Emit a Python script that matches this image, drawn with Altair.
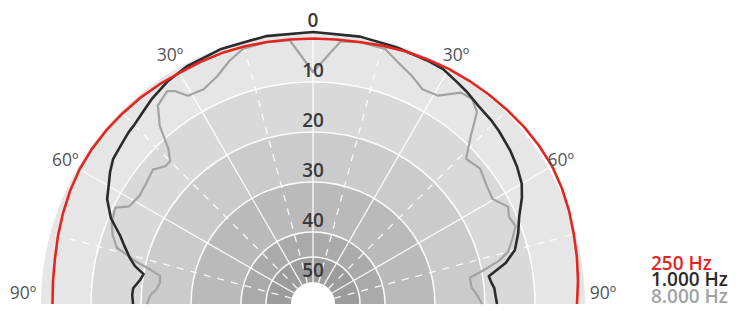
import altair as alt
import pandas as pd

# ---------------- data ----------------
series_names = ["250 Hz", "1.000 Hz", "8.000 Hz"]

red_angles = [-90, -85, -80, -75, -70, -65, -60, -55, -50, -45, -40, -35, -30, -25, -20, -15, -10, -5,
              0, 5, 10, 15, 20, 25, 30, 35, 40, 45, 50, 55, 60, 65, 70, 75, 80, 85, 90]
red_db = [2.3, 2.2, 2.0, 1.6, 1.2, 0.8, 0.5, 0.4, 0.4, 0.5, 0.6, 0.8, 1.0, 1.0, 1.0, 1.1, 1.2, 1.3,
          1.3, 1.3, 1.2, 0.9, 0.6, 0.4, 0.1, -0.1, -0.3, -0.5, -0.7, -0.8, -0.8, -0.5, -0.1, 0.4, 0.8, 1.2, 1.6]

black_angles = [-90, -87, -85, -82, -80, -78, -76, -73, -70.5, -67, -63, -60, -57, -54, -50, -47, -45, -42,
                -38, -33, -28, -20, -10, 0, 10, 18, 25, 29, 33, 36, 40, 44, 47, 52, 56, 60, 63, 67, 71,
                75, 78, 81, 83, 85, 88, 90]
black_db = [18.4, 18.2, 18.3, 19.5, 20.0, 18.0, 16.7, 15.0, 13.5, 10.5, 8.2, 7.2, 6.0, 5.0, 4.5, 4.0, 3.8, 3.2,
            2.2, 1.2, 0.6, 0.2, 0.0, 0.0, 0.1, 0.4, 0.6, 0.7, 1.5, 2.0, 2.8, 3.2, 3.6, 4.4, 5.2, 6.2, 7.5, 9.6, 11.0,
            12.6, 15.0, 18.8, 18.5, 18.0, 17.8, 17.6]

gray_angles = [-90, -87, -84.5, -82, -79.6, -78, -76.6, -74, -71, -68, -64, -62, -58, -54, -50, -47, -45, -43,
               -40.7, -38, -34.4, -33, -31, -27, -22.8, -19, -15.4, -10, -5, 0, 6, 10, 15.8, 19, 23.5, 27, 31,
               35, 37.8, 40.5, 43, 46.5, 51, 56, 59.7, 63.5, 66, 69, 72, 75, 77, 79, 80.5, 84, 87, 90]
gray_db = [21.2, 21.8, 23.0, 23.5, 23.3, 21.0, 18.2, 13.6, 12.0, 11.0, 10.4, 12.8, 13.5, 13.2, 12.6, 14.0, 14.0, 12.0,
           7.4, 4.0, 2.8, 3.6, 5.8, 6.2, 5.0, 3.0, 1.5, 1.2, 1.5, 8.0, 1.6, 1.2, 1.4, 3.0, 4.7, 6.2, 5.8,
           2.8, 2.5, 3.9, 8.0, 12.2, 11.4, 12.4, 12.8, 10.8, 11.5, 11.0, 12.5, 14.0, 16.3, 20.0, 22.6, 22.5, 21.5, 20.6]

band_edges_db = [0, 10, 20, 30, 40, 45, 50]
ring_lines_db = [10, 20, 30, 40, 45]
ring_label_db = [0, 10, 20, 30, 40, 50]
angle_label_deg = [-60, -30, 30, 60]
angle_label_text = ["60º", "30º", "30º", "60º"]
side_label_deg = [-90, 90]
side_label_text = ["90º", "90º"]
solid_spokes = [-60, -30, 0, 30, 60]
dashed_spokes = [-75, -45, -15, 15, 45, 75]

# ---------------- style / geometry ----------------
W, H = 729, 295
CX, CY = 305, 296          # polar centre in plot pixels
R0, K = 272, 5.0           # radius of 0 dB circle, px per dB
band_fill = ["#e6e6e6", "#d9d9d9", "#cbcbcb", "#bababa", "#aaaaaa", "#9c9c9c"]
line_colors = ["#e3261f", "#2b2b2b", "#a3a3a3"]
FONT = "Open Sans"

xs = alt.Scale(domain=[-CX, W - CX], range=[0, W], nice=False, zero=False)
ys = alt.Scale(domain=[CY - H, CY], range=[H, 0], nice=False, zero=False)
cs = alt.Scale(domain=series_names, range=line_colors)


def rad(field):
    return f"{R0} - {K}*datum.{field}"


def px(r, a):
    return f"({r})*sin(({a})*PI/180)"


def py(r, a):
    return f"({r})*cos(({a})*PI/180)"


X = lambda f: alt.X(f, scale=xs, axis=None)
Y = lambda f: alt.Y(f, scale=ys, axis=None)

# background bands
band_df = pd.DataFrame({"db_hi": band_edges_db[:-1], "db_lo": band_edges_db[1:], "fill": band_fill})
bands = alt.Chart(band_df).transform_calculate(
    r1=rad("db_hi"), r2=rad("db_lo"), t1="-PI/2", t2="PI/2", cx="0", cy="0"
).mark_arc().encode(
    x=X("cx:Q"), y=Y("cy:Q"),
    theta=alt.Theta("t1:Q", scale=None, stack=False), theta2="t2:Q",
    radius=alt.Radius("r1:Q", scale=None), radius2="r2:Q",
    color=alt.Color("fill:N", scale=None),
)

# white ring lines
ring_df = pd.DataFrame({"db": ring_lines_db})
rings = alt.Chart(ring_df).transform_calculate(
    r1=rad("db") + " + 0.8", r2=rad("db") + " - 0.8", t1="-PI/2", t2="PI/2", cx="0", cy="0"
).mark_arc(color="white", opacity=0.9).encode(
    x=X("cx:Q"), y=Y("cy:Q"),
    theta=alt.Theta("t1:Q", scale=None, stack=False), theta2="t2:Q",
    radius=alt.Radius("r1:Q", scale=None), radius2="r2:Q",
)


def spokes(angles, dash):
    df = pd.DataFrame({"ang": angles})
    kw = dict(color="white", strokeWidth=1.3, opacity=0.9)
    if dash:
        kw["strokeDash"] = [7, 7]
    return alt.Chart(df).transform_calculate(
        rin=f"{R0} - {K}*{band_edges_db[-1]}", rout=f"{R0}",
    ).transform_calculate(
        x1=px("datum.rin", "datum.ang"), y1=py("datum.rin", "datum.ang"),
        x2=px("datum.rout", "datum.ang"), y2=py("datum.rout", "datum.ang"),
    ).mark_rule(**kw).encode(x=X("x1:Q"), y=Y("y1:Q"), x2="x2:Q", y2="y2:Q")


# curves
line_df = pd.concat([
    pd.DataFrame({"series": series_names[0], "ang": red_angles, "db": red_db}),
    pd.DataFrame({"series": series_names[1], "ang": black_angles, "db": black_db}),
    pd.DataFrame({"series": series_names[2], "ang": gray_angles, "db": gray_db}),
], ignore_index=True)


def curve(name, width):
    return alt.Chart(line_df).transform_filter(alt.datum.series == name).transform_calculate(
        r=rad("db")
    ).transform_calculate(
        x=px("datum.r", "datum.ang"), y=py("datum.r", "datum.ang")
    ).mark_line(strokeWidth=width, strokeJoin="round").encode(
        x=X("x:Q"), y=Y("y:Q"), order=alt.Order("ang:Q"),
        color=alt.Color("series:N", scale=cs, legend=None),
    )


# ring labels
rl_df = pd.DataFrame({"db": ring_label_db, "lbl": [str(v) for v in ring_label_db]})
ring_labels = alt.Chart(rl_df).transform_calculate(
    x="0", y=rad("db") + " + 11.5"
).mark_text(font=FONT, fontSize=19, fontWeight=600, color="#3a3a3a", align="center", baseline="middle").encode(
    x=X("x:Q"), y=Y("y:Q"), text="lbl:N"
)

al_df = pd.DataFrame({"ang": angle_label_deg, "lbl": angle_label_text})
angle_labels = alt.Chart(al_df).transform_calculate(
    x=px(f"{R0} + 14", "datum.ang"), y=py(f"{R0} + 14", "datum.ang")
).mark_text(font=FONT, fontSize=17.5, color="#555555", align="center", baseline="middle").encode(
    x=X("x:Q"), y=Y("y:Q"), text="lbl:N"
)

sl_df = pd.DataFrame({"ang": side_label_deg, "lbl": side_label_text})
side_labels = alt.Chart(sl_df).transform_calculate(
    x=px(f"{R0} + 18", "datum.ang"), y=py(f"{R0} + 18", "datum.ang")
).mark_text(font=FONT, fontSize=17.5, color="#555555", align="center", baseline="bottom", dy=-1).encode(
    x=X("x:Q"), y=Y("y:Q"), text="lbl:N"
)

# legend (text only, coloured)
lg_df = pd.DataFrame({"series": series_names, "i": list(range(len(series_names)))})
legend = alt.Chart(lg_df).transform_calculate(
    ly="255.5 + 16.5*datum.i"
).mark_text(font=FONT, fontSize=19, fontWeight=600, align="left", baseline="middle").encode(
    x=alt.value(643), y=alt.Y("ly:Q", scale=None, axis=None), text="series:N",
    color=alt.Color("series:N", scale=cs, legend=None),
)

chart = alt.layer(
    bands, rings, spokes(solid_spokes, False), spokes(dashed_spokes, True),
    curve(series_names[2], 2.2), curve(series_names[1], 2.6), curve(series_names[0], 2.6),
    ring_labels, angle_labels, side_labels, legend,
).properties(width=W, height=H, padding=0, background="white").configure_view(stroke=None)

chart.save("out.html", embed_options={"renderer": "svg", "actions": False})
